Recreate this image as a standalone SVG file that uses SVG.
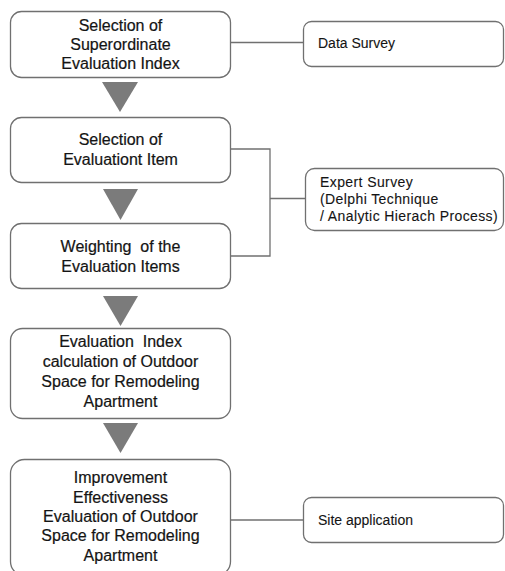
<svg xmlns="http://www.w3.org/2000/svg" width="505" height="571" viewBox="0 0 505 571">
<style>
.box{fill:#fff;stroke:#707070;stroke-width:1.3}
.tri{fill:#7b7b7b}
.t{font-family:"Liberation Sans",Arial,sans-serif;font-size:16px;fill:#141414;text-anchor:middle;stroke:#141414;stroke-width:0.2}
.s{font-family:"Liberation Sans",Arial,sans-serif;font-size:14px;fill:#141414;stroke:#141414;stroke-width:0.1}
.e{letter-spacing:0.4px}
.c{fill:none;stroke:#707070;stroke-width:1.3}
</style>
<rect width="505" height="571" fill="#fff"/>
<g id="connectors">
<path class="c" d="M230 42.5 H303"/>
<path class="c" d="M230 149 H270 V256 H230 M270 198.5 H305"/>
<path class="c" d="M230 520 H303"/>
</g>
<g id="arrows">
<polygon class="tri" points="102,82 138,82 120,112"/>
<polygon class="tri" points="103,189 138,189 120.5,220"/>
<polygon class="tri" points="103,296 138,296 120.5,326"/>
<polygon class="tri" points="103,423 138,423 120.5,453"/>
</g>
<g id="n1">
<rect class="box" x="10.5" y="11.5" width="220" height="66" rx="11"/>
<text class="t" x="120.5" y="31">Selection of</text>
<text class="t" x="120.5" y="50">Superordinate</text>
<text class="t" x="120.5" y="69">Evaluation Index</text>
</g>
<g id="n2">
<rect class="box" x="10.5" y="117.5" width="220" height="65" rx="11"/>
<text class="t" x="120.5" y="145">Selection of</text>
<text class="t" x="120.5" y="165">Evaluationt Item</text>
</g>
<g id="n3">
<rect class="box" x="10.5" y="223.5" width="220" height="65" rx="11"/>
<text class="t" x="120.5" y="252" xml:space="preserve">Weighting  of the</text>
<text class="t" x="120.5" y="272">Evaluation Items</text>
</g>
<g id="n4">
<rect class="box" x="10.5" y="328.5" width="220" height="90" rx="12"/>
<text class="t" x="120.5" y="347" xml:space="preserve">Evaluation  Index</text>
<text class="t" x="120.5" y="367">calculation of Outdoor</text>
<text class="t" x="120.5" y="387">Space for Remodeling</text>
<text class="t" x="120.5" y="407">Apartment</text>
</g>
<g id="n5">
<rect class="box" x="10.5" y="459.5" width="220" height="116" rx="14"/>
<text class="t" x="120.5" y="483">Improvement</text>
<text class="t" x="120.5" y="503">Effectiveness</text>
<text class="t" x="120.5" y="522">Evaluation of Outdoor</text>
<text class="t" x="120.5" y="541">Space for Remodeling</text>
<text class="t" x="120.5" y="561">Apartment</text>
</g>
<g id="d1">
<rect class="box" x="303.5" y="21.5" width="200" height="45" rx="8"/>
<text class="s" x="318" y="48">Data Survey</text>
</g>
<g id="d2">
<rect class="box" x="305.5" y="168.5" width="198" height="62" rx="9"/>
<text class="s e" x="320" y="187">Expert Survey</text>
<text class="s e" x="320" y="204">(Delphi Technique</text>
<text class="s e" x="320" y="221">/ Analytic Hierach Process)</text>
</g>
<g id="d3">
<rect class="box" x="303.5" y="497.5" width="200" height="45" rx="8"/>
<text class="s" x="318" y="525">Site application</text>
</g>
</svg>
